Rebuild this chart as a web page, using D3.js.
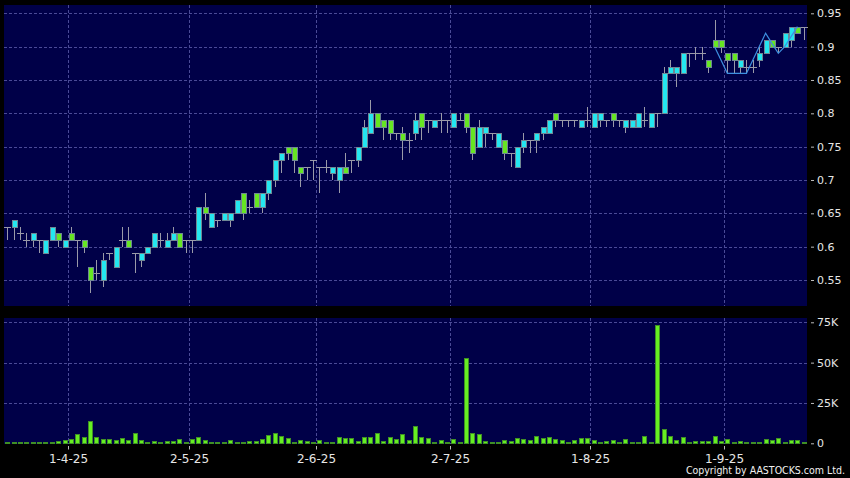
<!DOCTYPE html>
<html><head><meta charset="utf-8">
<script src="https://cdn.jsdelivr.net/npm/d3@7"></script>
<style>html,body{margin:0;padding:0;background:#000;}svg{display:block}</style>
</head><body><svg id="c" width="850" height="478"></svg>
<script>
// ---- calendar (categories) ----
const firstDay = "2025-03-18", lastDay = "2025-09-17";
const holidays = ["2025-04-04","2025-04-18","2025-04-21","2025-05-01","2025-05-05","2025-07-01"];

// ---- OHLC (price) ----
const open = [
.63,.63,.62,.61,.61,.61,.59,.61,.62,.60,
.62,.61,.61,.57,.56,.55,.59,.57,.61,.61,
.59,.58,.59,.60,.61,.60,.61,.62,.61,.61,
.61,.66,.63,.64,.64,.64,.65,.68,.66,.68,
.66,.68,.70,.73,.75,.75,.72,.72,.73,.72,
.72,.71,.70,.72,.73,.73,.75,.77,.80,.79,
.79,.77,.77,.76,.77,.80,.79,.78,.79,.79,
.78,.79,.80,.78,.75,.77,.77,.75,.76,.74,
.72,.75,.76,.76,.77,.77,.80,.79,.79,.79,
.78,.79,.78,.79,.79,.80,.79,.78,.78,.78,
.79,.78,.80,.80,.86,.86,.86,.89,.89,.89,
.88,.91,.91,.89,.89,.87,.87,.87,.88,.89,
.91,.90,.90,.91,.93,.93];
const high = [
.63,.64,.63,.62,.62,.61,.61,.63,.62,.61,
.63,.61,.61,.57,.58,.59,.59,.60,.63,.63,
.59,.59,.60,.62,.62,.62,.63,.62,.61,.61,
.66,.68,.65,.64,.65,.65,.67,.68,.67,.68,
.68,.70,.73,.74,.75,.75,.72,.72,.73,.72,
.73,.72,.72,.74,.73,.75,.79,.82,.80,.79,
.79,.77,.78,.77,.80,.80,.79,.79,.80,.79,
.80,.80,.80,.78,.79,.78,.77,.77,.76,.74,
.75,.77,.76,.77,.78,.79,.80,.79,.79,.79,
.79,.81,.80,.80,.79,.80,.79,.79,.79,.80,
.81,.80,.80,.87,.88,.87,.89,.89,.90,.90,
.88,.94,.91,.89,.89,.88,.88,.88,.90,.91,
.91,.90,.92,.93,.93,.93];
const low = [
.61,.61,.61,.60,.60,.59,.59,.61,.60,.60,
.61,.57,.59,.53,.55,.54,.58,.57,.60,.60,
.56,.57,.59,.60,.60,.60,.61,.60,.59,.59,
.61,.64,.63,.63,.64,.63,.65,.64,.65,.66,
.65,.67,.69,.71,.73,.71,.69,.70,.70,.68,
.71,.70,.68,.71,.71,.72,.75,.77,.78,.76,
.76,.76,.73,.74,.76,.76,.77,.78,.77,.77,
.78,.79,.77,.73,.75,.75,.76,.75,.73,.72,
.72,.74,.74,.74,.76,.77,.78,.78,.78,.78,
.78,.78,.78,.78,.78,.78,.78,.77,.78,.78,
.78,.78,.78,.80,.86,.84,.86,.87,.88,.88,
.86,.90,.89,.86,.86,.86,.86,.86,.87,.89,
.90,.89,.90,.90,.92,.91];
const close = [
.63,.64,.62,.61,.62,.61,.61,.63,.61,.61,
.61,.61,.60,.55,.56,.58,.59,.60,.61,.60,
.59,.59,.60,.62,.61,.61,.62,.60,.61,.61,
.66,.65,.65,.64,.65,.65,.67,.65,.66,.66,
.68,.70,.73,.74,.74,.73,.71,.72,.73,.72,
.72,.72,.72,.71,.73,.75,.78,.80,.78,.78,
.77,.77,.76,.76,.79,.78,.79,.79,.79,.79,
.80,.79,.78,.74,.78,.78,.77,.77,.74,.74,
.75,.76,.76,.77,.78,.79,.79,.79,.79,.79,
.79,.79,.80,.80,.79,.79,.79,.79,.79,.80,
.79,.80,.80,.86,.87,.87,.89,.89,.89,.89,
.87,.90,.90,.88,.88,.88,.87,.87,.89,.91,
.90,.90,.92,.93,.92,.93];

// ---- volume (thousands of shares) ----
const volumeK = [
.8,.8,.8,.5,.6,.6,.2,.8,1.2,1.5,
2.5,5.2,3.3,13.7,3.3,2.5,2.5,1.7,3.1,1.9,
5.8,1.9,.8,1.2,.2,1.2,1.2,2.1,.4,2.5,
3.7,1.9,.8,.1,.6,1.5,.8,.8,1.0,1.2,
2.3,5.0,5.8,4.2,2.7,.8,1.5,1.2,.6,1.7,
.6,.6,3.3,2.7,2.7,1.2,3.7,3.5,5.8,1.0,
3.7,2.3,5.4,1.9,10.6,3.3,3.1,.8,1.7,.6,
2.5,.2,52.5,5.8,5.2,1.2,.6,.2,1.9,1.2,
2.7,2.3,1.5,4.4,2.9,3.3,2.1,1.5,.6,1.7,
3.1,3.1,1.5,.6,1.2,1.7,.8,2.3,.2,.8,
4.0,.8,73.3,8.8,4.0,1.7,3.3,.8,1.2,1.2,
1.2,4.2,1.2,2.3,.8,1.0,.1,.6,.6,2.1,
1.5,2.7,.8,1.5,1.5,.8];

// ---- overlay line (last weeks) ----
const overlayStart = 111;
const overlayValues = [.90,.88,.86,.86,.86,.86,.88,.90,.92,.905,.89,.90,.915,.93];

// ---- ticks ----
const priceTicks = [0.55,0.6,0.65,0.7,0.75,0.8,0.85,0.9,0.95];
const volumeTicks = [0,25,50,75];
const volumeTickLabels = ["0","25K","50K","75K"];
const dateTicks = ["2025-04-01","2025-05-02","2025-06-02","2025-07-02","2025-08-01","2025-09-01"];
const dateTickLabels = ["1-4-25","2-5-25","2-6-25","2-7-25","1-8-25","1-9-25"];

// build trading-day list
const fmt = d3.utcFormat("%Y-%m-%d");
const dates = [];
for (let d = new Date(firstDay + "T00:00:00Z"); fmt(d) <= lastDay; d = d3.utcDay.offset(d, 1)) {
  const wd = d.getUTCDay();
  if (wd === 0 || wd === 6) continue;
  if (holidays.includes(fmt(d))) continue;
  dates.push(fmt(d));
}
const candles = dates.map((d, i) => ({d, o: open[i], h: high[i], l: low[i], c: close[i], v: volumeK[i]}));

const svg = d3.select("#c");
svg.append("rect").attr("width", 850).attr("height", 478).attr("fill", "#000");

const L = 4, R = 807;
const x = d3.scaleBand().domain(dates).range([L, R]).padding(0);
const bw = x.bandwidth();
const cx = d => x(d) + bw / 2;
const yP = d3.scaleLinear().domain([0.55, 0.95]).range([280, 13.3]);
const yV = d3.scaleLinear().domain([0, 75]).range([443.3, 322.3]);

const navy = "#000048";
const gridCol = "#4a4a96";
svg.append("rect").attr("x", L).attr("y", 5).attr("width", R - L).attr("height", 301).attr("fill", navy);
svg.append("rect").attr("x", L).attr("y", 318).attr("width", R - L).attr("height", 126).attr("fill", navy);

const grid = svg.append("g").attr("stroke", gridCol).attr("stroke-width", 1).attr("stroke-dasharray", "3,2").attr("shape-rendering", "crispEdges");
priceTicks.forEach(t => grid.append("line").attr("x1", L).attr("x2", R).attr("y1", Math.round(yP(t)) + 0.5).attr("y2", Math.round(yP(t)) + 0.5));
volumeTicks.slice(1).forEach(t => grid.append("line").attr("x1", L).attr("x2", R).attr("y1", Math.round(yV(t)) + 0.5).attr("y2", Math.round(yV(t)) + 0.5));
dateTicks.forEach(t => {
  const xx = Math.round(x(t)) + 0.5;
  grid.append("line").attr("x1", xx).attr("x2", xx).attr("y1", 5).attr("y2", 306);
  grid.append("line").attr("x1", xx).attr("x2", xx).attr("y1", 318).attr("y2", 444);
});

// candles
const up = "#24e6f0", down = "#66e622", edge = "#6f8794", wick = "#9a9aa8";
const cg = svg.append("g").attr("shape-rendering", "crispEdges");
cg.selectAll("line.wick").data(candles).join("line").attr("class", "wick")
  .attr("x1", d => Math.round(cx(d.d)) + 0.5).attr("x2", d => Math.round(cx(d.d)) + 0.5)
  .attr("y1", d => yP(d.h)).attr("y2", d => yP(d.l)).attr("stroke", wick).attr("stroke-width", 1);
cg.selectAll("line.doji").data(candles.filter(d => d.o === d.c)).join("line").attr("class", "doji")
  .attr("x1", d => Math.round(cx(d.d)) - 3).attr("x2", d => Math.round(cx(d.d)) + 4)
  .attr("y1", d => Math.round(yP(d.c)) + 0.5).attr("y2", d => Math.round(yP(d.c)) + 0.5)
  .attr("stroke", wick).attr("stroke-width", 1);
cg.selectAll("rect.body").data(candles.filter(d => d.o !== d.c)).join("rect").attr("class", "body")
  .attr("x", d => Math.round(cx(d.d)) - 2 + 0.5)
  .attr("width", 5)
  .attr("y", d => Math.round(yP(Math.max(d.o, d.c))) + 0.5)
  .attr("height", d => Math.round(yP(Math.min(d.o, d.c))) - Math.round(yP(Math.max(d.o, d.c))))
  .attr("fill", d => d.c > d.o ? up : down).attr("stroke", edge).attr("stroke-width", 1);

// overlay line
const ov = overlayValues.map((v, k) => ({d: dates[overlayStart + k], v}));
svg.append("path").datum(ov)
  .attr("d", d3.line().x(d => cx(d.d)).y(d => yP(d.v)))
  .attr("fill", "none").attr("stroke", "#3d8fe0").attr("stroke-width", 1.2);

// volume bars
svg.append("g").attr("shape-rendering", "crispEdges")
  .selectAll("rect").data(candles).join("rect")
  .attr("x", d => Math.round(cx(d.d)) - 2 + 0.5)
  .attr("width", 4)
  .attr("y", d => Math.min(yV(d.v), yV(0) - 1))
  .attr("height", d => Math.max(1, yV(0) - yV(d.v)))
  .attr("fill", "#66ee22").attr("stroke", "#3f8f25").attr("stroke-width", 1);

// y axes
const axFont = "DejaVu Sans, Verdana, sans-serif";
function styleAxis(g) {
  g.select(".domain").remove();
  g.selectAll(".tick line").attr("stroke", "#bbbbbb");
  g.selectAll(".tick text").attr("fill", "#e6e6e6").style("font-family", axFont).style("font-size", "11px");
}
svg.append("g").attr("transform", "translate(811,0)")
  .call(d3.axisRight(yP).tickValues(priceTicks).tickSize(3).tickPadding(3).tickFormat(d => String(+d.toFixed(2))))
  .call(styleAxis);
svg.append("g").attr("transform", "translate(811,0)")
  .call(d3.axisRight(yV).tickValues(volumeTicks).tickSize(3).tickPadding(3).tickFormat((d, i) => volumeTickLabels[i]))
  .call(styleAxis);

// date axis
const dg = svg.append("g");
dateTicks.forEach((t, i) => {
  const xx = Math.round(x(t)) + 0.5;
  dg.append("line").attr("x1", xx).attr("x2", xx).attr("y1", 446).attr("y2", 449.5).attr("stroke", "#bbbbbb");
  dg.append("text").attr("x", xx).attr("y", 462.5).attr("text-anchor", "middle")
    .attr("fill", "#e6e6e6").style("font-family", axFont).style("font-size", "12px").text(dateTickLabels[i]);
});

svg.append("text").attr("x", 845).attr("y", 474).attr("text-anchor", "end")
  .attr("fill", "#f0f0f0").style("font-family", "DejaVu Sans Condensed, DejaVu Sans, sans-serif")
  .style("font-stretch", "condensed").style("font-size", "10.5px").text("Copyright by AASTOCKS.com Ltd.");
</script></body></html>
